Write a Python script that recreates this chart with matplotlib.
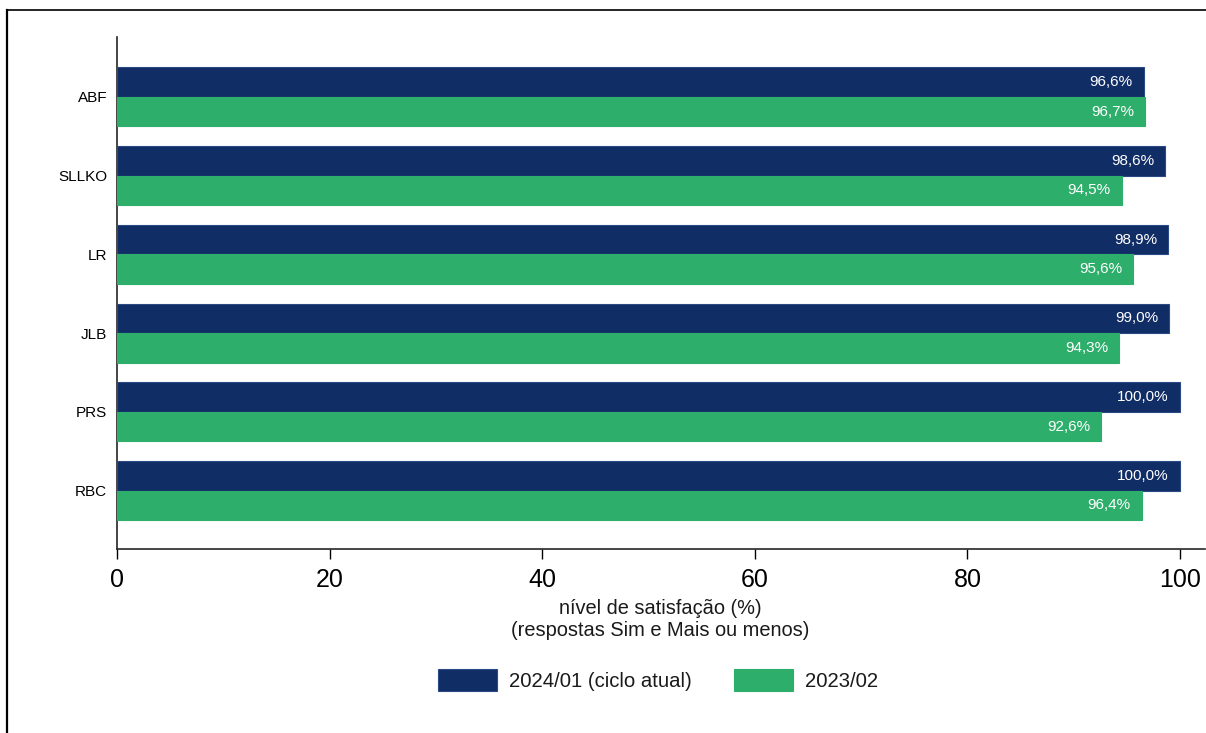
#!/usr/bin/env python3

import matplotlib
matplotlib.use("Agg")
import matplotlib.pyplot as plt
from matplotlib.lines import Line2D
import numpy as np

categories = ["ABF", "SLLKO", "LR", "JLB", "PRS", "RBC"]
atual = [96.6, 98.6, 98.9, 99.0, 100.0, 100.0]
anterior = [96.7, 94.5, 95.6, 94.3, 92.6, 96.4]
series_labels = ["2024/01 (ciclo atual)", "2023/02"]
xticks = [0, 20, 40, 60, 80, 100]

NAVY = "#112d66"
GREEN = "#2eae6b"


def fmt(v):
    return f"{v:.1f}".replace(".", ",") + "%"


def main():
    plt.rcParams.update({
        "font.family": ["Liberation Sans", "DejaVu Sans"],
        "axes.edgecolor": "#262626",
        "text.color": "#1a1a1a",
    })

    W, H = 1206, 733
    fig = plt.figure(figsize=(W / 100, H / 100), dpi=100, facecolor="white")
    ax = fig.add_axes([117 / W, 1 - 549 / H, 1088 / W, (549 - 37) / H])

    y = np.arange(len(categories))
    h = 0.375

    b1 = ax.barh(y - h / 2, atual, height=h, color=NAVY, edgecolor="#2a4a85",
                 linewidth=0.8, label=series_labels[0], zorder=3)
    b2 = ax.barh(y + h / 2, anterior, height=h, color=GREEN, edgecolor=GREEN,
                 linewidth=0.8, label=series_labels[1], zorder=3)

    for bars, vals in ((b1, atual), (b2, anterior)):
        for b, v in zip(bars, vals):
            ax.annotate(fmt(v), (v, b.get_y() + b.get_height() / 2),
                        xytext=(-8, 0), textcoords="offset points",
                        ha="right", va="center", color="white", fontsize=11, zorder=4)

    ax.set_ylim(len(categories) - 1 + 0.74, -0.76)
    ax.set_xlim(0, 102.35)
    ax.set_yticks(y)
    ax.set_yticklabels(categories, fontsize=11)
    ax.tick_params(axis="y", length=0, pad=7)
    ax.set_xticks(xticks)
    ax.set_xticklabels([str(t) for t in xticks], fontsize=18)
    ax.tick_params(axis="x", length=7, width=1, pad=7)

    ax.spines["top"].set_visible(False)
    ax.spines["right"].set_visible(False)
    ax.spines["left"].set_linewidth(1.2)
    ax.spines["bottom"].set_linewidth(1.2)

    # axis title, two lines under the tick labels
    fig.text(660 / W, 1 - 619.5 / H,
             "nível de satisfação (%)\n(respostas Sim e Mais ou menos)",
             ha="center", va="center", fontsize=14.4, linespacing=1.15)

    fig.legend(
        handles=[b1, b2],
        labels=series_labels,
        loc="center",
        bbox_to_anchor=(658 / W, 1 - 680 / H),
        ncol=2,
        frameon=False,
        fontsize=14.6,
        handlelength=2.9,
        handleheight=1.35,
        handletextpad=0.6,
        columnspacing=2.07,
    )

    # outer frame lines
    fig.add_artist(Line2D([7 / W, 7 / W], [0, 1 - 10 / H],
                          transform=fig.transFigure, color="black", linewidth=1.6))
    fig.add_artist(Line2D([7 / W, 1], [1 - 10 / H, 1 - 10 / H],
                          transform=fig.transFigure, color="black", linewidth=1.2))

    fig.savefig("out.png", dpi=100, facecolor="white")
    plt.close(fig)


if __name__ == "__main__":
    main()
